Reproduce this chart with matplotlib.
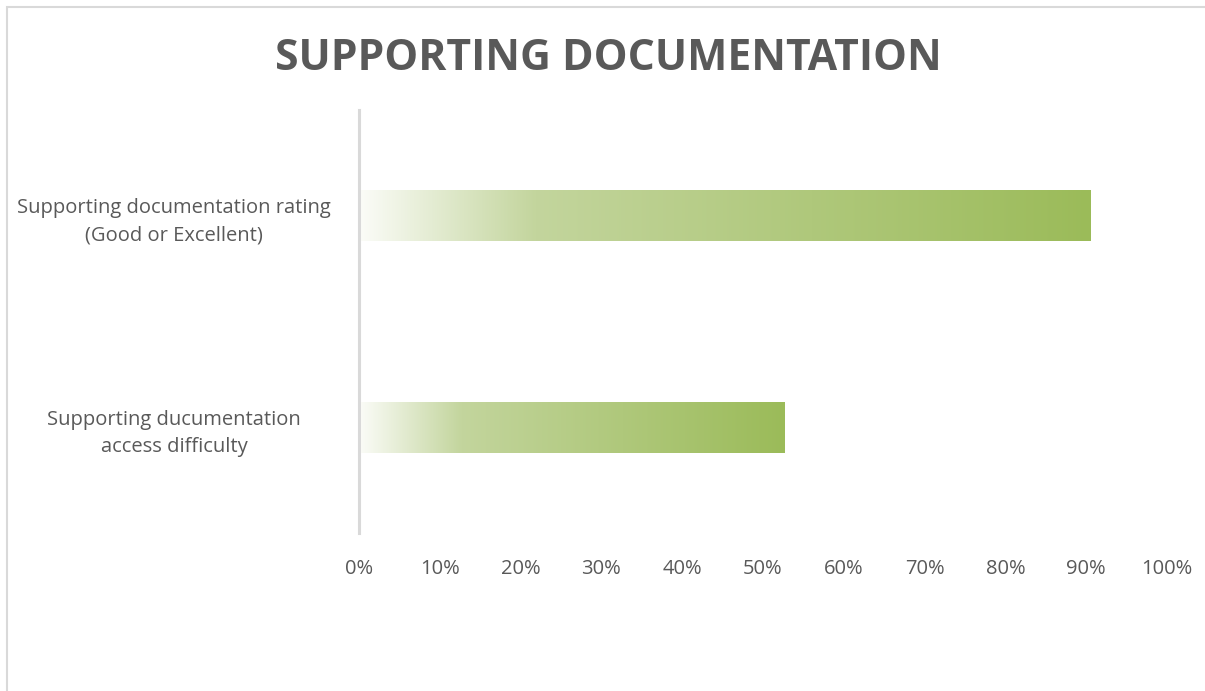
import numpy as np
import matplotlib.pyplot as plt
from matplotlib.colors import LinearSegmentedColormap
from matplotlib.patches import Rectangle

plt.rcParams['font.family'] = ['Open Sans', 'DejaVu Sans']

categorias = ["Supporting documentation rating\n(Good or Excellent)",
              "Supporting ducumentation\naccess difficulty"]
valores = [0.905, 0.527]
xtcks = [0, 0.1, 0.2, 0.3, 0.4, 0.5, 0.6, 0.7, 0.8, 0.9, 1.0]
xtcklab = ["0%", "10%", "20%", "30%", "40%", "50%", "60%", "70%", "80%", "90%", "100%"]

gris = "#595959"
verde = LinearSegmentedColormap.from_list(
    "verde", [(0.0, "#fbfcf8"), (0.24, "#c3d59d"), (1.0, "#9bbb59")])

fig = plt.figure(figsize=(12.05, 6.91), dpi=100)
ax = fig.add_axes([359/1205, 1 - 533/691, (1167-359)/1205, (533-110)/691])

# borde del grafico
fig.patches.append(Rectangle((7/1205, -0.1), 1.2, 1 - 7/691 + 0.1,
                             transform=fig.transFigure, fill=False,
                             edgecolor="#d9d9d9", linewidth=1.5))

alto = 0.24
grad = np.linspace(0, 1, 256).reshape(1, -1)
for i, v in enumerate(valores):
    ax.imshow(grad, cmap=verde, aspect="auto", interpolation="bilinear",
              extent=[0, v, i - alto/2, i + alto/2], zorder=2)

ax.set_xlim(0, 1)
ax.set_ylim(1.5, -0.5)
ax.set_yticks(range(len(categorias)))
ax.set_yticklabels(categorias, ha="center", fontsize=14.5, color=gris,
                   linespacing=1.5)
ax.tick_params(axis="y", length=0, pad=133)
ax.set_xticks(xtcks)
ax.set_xticklabels(xtcklab, fontsize=14.5, color=gris)
ax.tick_params(axis="x", length=0, pad=19)

for lado in ["top", "right", "bottom"]:
    ax.spines[lado].set_visible(False)
ax.spines["left"].set_color("#d9d9d9")
ax.spines["left"].set_linewidth(2.2)

fig.text(608/1205, 1 - 59/691, "SUPPORTING DOCUMENTATION", ha="center",
         va="center", fontsize=30.7, fontweight="bold", color=gris)

fig.savefig("out.png", dpi=100)
